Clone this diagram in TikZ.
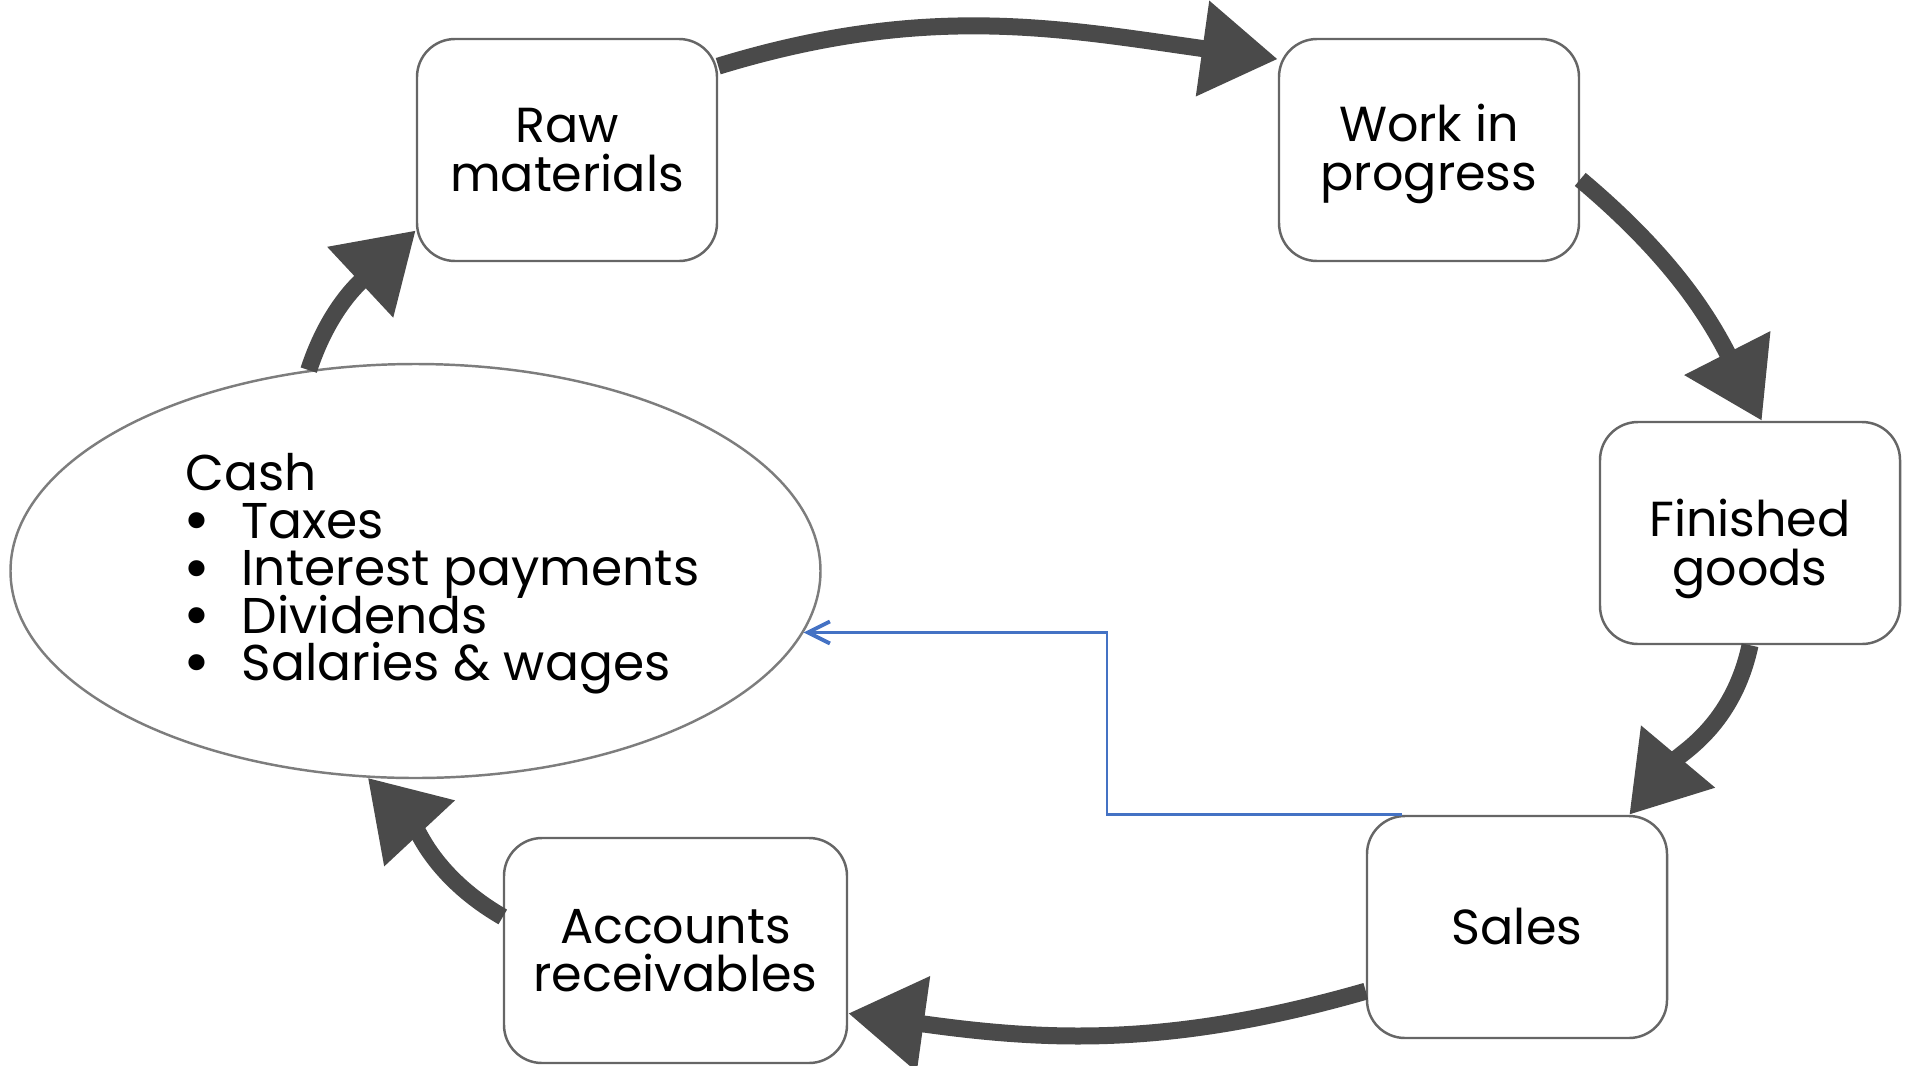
\documentclass[tikz,border=0pt]{standalone}
\usepackage{fontspec}
\setmainfont{Poppins}
\usetikzlibrary{arrows.meta,shapes.geometric}

\definecolor{arcgray}{HTML}{4A4A4A}
\definecolor{boxgray}{HTML}{666666}
\definecolor{lineblue}{HTML}{4472C4}

% tight line spacing inside nodes
\newcommand{\tightlines}{\lineskiplimit=-20pt\relax}
% one bulleted line inside the cash ellipse
\newcommand{\cashitem}[1]{\makebox[15.9pt][l]{\hspace*{-0.7pt}\raisebox{-1.2pt}{\scalebox{1.3}{\textbullet}}}#1}
% two centred lines set a little lower in their box
\newcommand{\lowtext}[2]{\raisebox{-#1}[\height][\depth]{\parbox{2.8cm}{\centering\tightlines #2}}}

\begin{document}
\begin{tikzpicture}[
    stagebox/.style={draw=boxgray, line width=0.7pt, rounded corners=0.38cm,
        minimum width=3cm, minimum height=2.22cm, align=center, inner sep=2pt,
        font=\fontsize{14}{13.8}\selectfont\tightlines},
    cyclearrow/.style={draw=arcgray, line width=0.17cm,
        -{Triangle[length=0.76cm,width=0.92cm]}},
    backline/.style={draw=lineblue, line width=0.8pt,
        -{Straight Barb[length=2.2mm,width=2.2mm,line width=1.1pt]}}
]
    \useasboundingbox (0,0) rectangle (19.05,-10.65);

    % Cash pool
    \node[draw=boxgray!85, line width=0.7pt, ellipse,
          minimum width=8.1cm, minimum height=4.14cm] (cash) at (4.155,-5.71) {};
    \node[anchor=west, align=left, inner sep=0pt,
          font=\fontsize{14.3}{13.5}\selectfont\tightlines] (cashlist) at (1.85,-5.74)
        {Cash\\ \cashitem{Taxes}\\ \cashitem{Interest payments}\\
         \cashitem{Dividends}\\ \cashitem{Salaries \& wages}};

    % Stages of the cycle
    \node[stagebox] (raw) at (5.67,-1.50) {Raw\\materials};
    \node[stagebox] (wip) at (14.29,-1.50) {\lowtext{0.4mm}{Work in\\progress}};
    \node[stagebox] (fg) at (17.50,-5.33) {\lowtext{1.6mm}{Finished\\goods}};
    \node[stagebox] (sales) at (15.17,-9.27) {Sales};
    \node[stagebox, minimum width=3.43cm, minimum height=2.25cm] (ar) at (6.755,-9.505)
        {Accounts\\receivables};

    % Cycle arrows
    \draw[cyclearrow] (raw.29) to[out=17, in=172] (wip.149);
    \draw[cyclearrow] (wip.-11) to[out=-40, in=117] (fg.84);
    \draw[cyclearrow] (fg.south) to[out=-102, in=50] (sales.45);
    \draw[cyclearrow] (sales.203) to[out=196, in=-8] (ar.-20);
    \draw[cyclearrow] (ar.169) to[out=150, in=-47] (cash.257);
    \draw[cyclearrow] (cash.118) to[out=72, in=223] (raw.208);

    % Sales back to cash
    \coordinate (turn) at (11.07,-7.2);
    \draw[backline] ([xshift=3.6mm]sales.north west) -| (turn) |- (cash.-9);
\end{tikzpicture}
\end{document}
